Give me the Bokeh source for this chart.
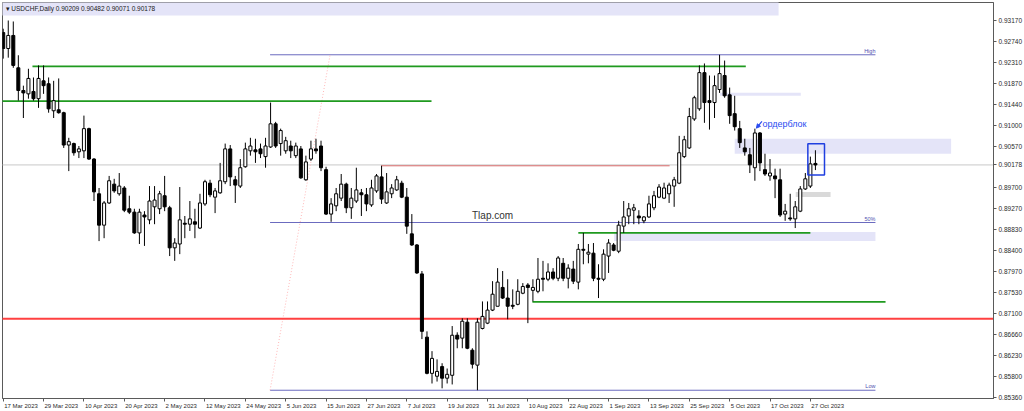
from bokeh.plotting import figure
from bokeh.models import (ColumnDataSource, FixedTicker, Label, Range1d, Arrow, NormalHead,
                          PrintfTickFormatter, LinearAxis)
from bokeh.embed import file_html
from bokeh.resources import INLINE

# ---------------- data (daily USDCHF candles, bar index 0 = 17 Mar 2023) ----------------
date_labels = ["17 Mar 2023", "29 Mar 2023", "10 Apr 2023", "20 Apr 2023", "2 May 2023",
               "12 May 2023", "24 May 2023", "5 Jun 2023", "15 Jun 2023", "27 Jun 2023",
               "7 Jul 2023", "19 Jul 2023", "31 Jul 2023", "10 Aug 2023", "22 Aug 2023",
               "1 Sep 2023", "13 Sep 2023", "25 Sep 2023", "5 Oct 2023", "17 Oct 2023",
               "27 Oct 2023"]
date_tick_bars = [0, 8, 16, 24, 32, 40, 48, 56, 64, 72, 80, 88, 96, 104, 112, 120, 128,
                  136, 144, 152, 160]

opens = [
    0.9292, 0.9259, 0.9286, 0.9219, 0.9172, 0.9165, 0.9170, 0.9155, 0.9192, 0.9186,
    0.9130, 0.9132, 0.9126, 0.9059, 0.9062, 0.9045, 0.9047, 0.9093, 0.9030, 0.8958,
    0.8893, 0.8939, 0.8978, 0.8958, 0.8970, 0.8927, 0.8920, 0.8877, 0.8914, 0.8904,
    0.8931, 0.8927, 0.8954, 0.8929, 0.8846, 0.8854, 0.8897, 0.8895, 0.8900, 0.8887,
    0.8937, 0.8980, 0.8951, 0.8960, 0.8983, 0.9051, 0.8987, 0.8974, 0.9014, 0.9047,
    0.9049, 0.9051, 0.9035, 0.9055, 0.9103, 0.9062, 0.9047, 0.9057, 0.9037, 0.9051,
    0.8987, 0.9030, 0.9051, 0.9057, 0.9008, 0.8916, 0.8933, 0.8949, 0.8978, 0.8929,
    0.8943, 0.8960, 0.8956, 0.8935, 0.8964, 0.8993, 0.8939, 0.8958, 0.8966, 0.8980,
    0.8951, 0.8875, 0.8852, 0.8792, 0.8661, 0.8586, 0.8580, 0.8600, 0.8576, 0.8582,
    0.8665, 0.8659, 0.8692, 0.8634, 0.8603, 0.8679, 0.8690, 0.8717, 0.8725, 0.8764,
    0.8742, 0.8727, 0.8729, 0.8752, 0.8769, 0.8758, 0.8756, 0.8783, 0.8781, 0.8796,
    0.8783, 0.8814, 0.8783, 0.8802, 0.8775, 0.8843, 0.8833, 0.8835, 0.8783, 0.8781,
    0.8829, 0.8852, 0.8839, 0.8891, 0.8912, 0.8924, 0.8912, 0.8902, 0.8910, 0.8929,
    0.8951, 0.8949, 0.8958, 0.8974, 0.8980, 0.9035, 0.9053, 0.9113, 0.9134, 0.9209,
    0.9151, 0.9147, 0.9174, 0.9203, 0.9163, 0.9124, 0.9093, 0.9053, 0.9039, 0.9012,
    0.9084, 0.9008, 0.8995, 0.8995, 0.8987, 0.8916, 0.8908, 0.8906, 0.8922, 0.8968,
    0.8974, 0.90209]
highs = [
    0.9300, 0.9317, 0.9315, 0.9245, 0.9182, 0.9217, 0.9199, 0.9224, 0.9224, 0.9199,
    0.9192, 0.9197, 0.9128, 0.9074, 0.9064, 0.9057, 0.9120, 0.9095, 0.9032, 0.8970,
    0.8943, 0.8995, 0.8989, 0.9001, 0.8974, 0.8954, 0.8927, 0.8927, 0.8922, 0.8974,
    0.8974, 0.8964, 0.8995, 0.8933, 0.8866, 0.8972, 0.8912, 0.8943, 0.8927, 0.8958,
    0.8987, 0.8987, 0.8970, 0.9022, 0.9062, 0.9059, 0.8995, 0.9030, 0.9064, 0.9074,
    0.9072, 0.9062, 0.9074, 0.9147, 0.9107, 0.9093, 0.9076, 0.9068, 0.9064, 0.9057,
    0.9037, 0.9068, 0.9072, 0.9068, 0.9014, 0.8949, 0.8970, 0.8999, 0.8981, 0.8970,
    0.9012, 0.8968, 0.8970, 0.8987, 0.8999, 0.9016, 0.9001, 0.8978, 0.8995, 0.8985,
    0.8970, 0.8916, 0.8854, 0.8798, 0.8673, 0.8632, 0.8615, 0.8607, 0.8596, 0.8684,
    0.8671, 0.8700, 0.8700, 0.8638, 0.8700, 0.8735, 0.8735, 0.8777, 0.8804, 0.8798,
    0.8781, 0.8760, 0.8781, 0.8773, 0.8773, 0.8781, 0.8825, 0.8819, 0.8814, 0.8804,
    0.8829, 0.8825, 0.8812, 0.8819, 0.8854, 0.8877, 0.8854, 0.8856, 0.8812, 0.8843,
    0.8864, 0.8856, 0.8902, 0.8943, 0.8939, 0.8937, 0.8924, 0.8912, 0.8954, 0.8964,
    0.8978, 0.8981, 0.8981, 0.8993, 0.9078, 0.9078, 0.9136, 0.9161, 0.9224, 0.9228,
    0.9203, 0.9203, 0.9246, 0.9234, 0.9178, 0.9161, 0.9109, 0.9072, 0.9053, 0.9093,
    0.9086, 0.9041, 0.9030, 0.9010, 0.9010, 0.8937, 0.8958, 0.8943, 0.8974, 0.9001,
    0.9035, 0.90482]
lows = [
    0.9238, 0.9240, 0.9219, 0.9151, 0.9115, 0.9155, 0.9151, 0.9136, 0.9165, 0.9126,
    0.9115, 0.9124, 0.9053, 0.9005, 0.9037, 0.9032, 0.9032, 0.9028, 0.8943, 0.8860,
    0.8866, 0.8937, 0.8960, 0.8954, 0.8920, 0.8916, 0.8875, 0.8854, 0.8850, 0.8895,
    0.8895, 0.8916, 0.8922, 0.8829, 0.8819, 0.8833, 0.8866, 0.8881, 0.8866, 0.8885,
    0.8933, 0.8951, 0.8918, 0.8958, 0.8978, 0.8974, 0.8939, 0.8970, 0.9012, 0.9037,
    0.9022, 0.9032, 0.9012, 0.9053, 0.9053, 0.9037, 0.9041, 0.9032, 0.9032, 0.8989,
    0.8985, 0.9026, 0.9041, 0.9005, 0.8914, 0.8900, 0.8922, 0.8943, 0.8918, 0.8906,
    0.8939, 0.8912, 0.8922, 0.8931, 0.8960, 0.8937, 0.8937, 0.8949, 0.8964, 0.8949,
    0.8875, 0.8850, 0.8792, 0.8657, 0.8584, 0.8565, 0.8569, 0.8555, 0.8565, 0.8563,
    0.8638, 0.8638, 0.8636, 0.8596, 0.8551, 0.8677, 0.8688, 0.8715, 0.8725, 0.8740,
    0.8698, 0.8719, 0.8727, 0.8750, 0.8690, 0.8735, 0.8752, 0.8756, 0.8777, 0.8779,
    0.8777, 0.8777, 0.8762, 0.8771, 0.8760, 0.8812, 0.8814, 0.8777, 0.8742, 0.8777,
    0.8794, 0.8839, 0.8835, 0.8877, 0.8895, 0.8895, 0.8895, 0.8897, 0.8908, 0.8924,
    0.8949, 0.8947, 0.8939, 0.8931, 0.8978, 0.9032, 0.9051, 0.9109, 0.9130, 0.9105,
    0.9091, 0.9115, 0.9167, 0.9157, 0.9103, 0.9089, 0.9053, 0.9037, 0.9001, 0.8985,
    0.9005, 0.8995, 0.8985, 0.8949, 0.8910, 0.8902, 0.8902, 0.8887, 0.8920, 0.8966,
    0.8970, 0.90071]
closes = [
    0.9259, 0.9286, 0.9224, 0.9172, 0.9167, 0.9197, 0.9155, 0.9197, 0.9182, 0.9134,
    0.9151, 0.9126, 0.9059, 0.9066, 0.9043, 0.9051, 0.9093, 0.9030, 0.8962, 0.8893,
    0.8939, 0.8985, 0.8964, 0.8974, 0.8924, 0.8920, 0.8877, 0.8920, 0.8910, 0.8943,
    0.8945, 0.8958, 0.8931, 0.8846, 0.8856, 0.8904, 0.8895, 0.8906, 0.8895, 0.8939,
    0.8983, 0.8956, 0.8964, 0.8985, 0.9051, 0.8993, 0.8976, 0.9012, 0.9051, 0.9057,
    0.9045, 0.9041, 0.9057, 0.9103, 0.9057, 0.9089, 0.9068, 0.9047, 0.9057, 0.8991,
    0.9024, 0.9051, 0.9047, 0.9012, 0.8916, 0.8937, 0.8958, 0.8978, 0.8929, 0.8949,
    0.8966, 0.8956, 0.8937, 0.8970, 0.8995, 0.8947, 0.8962, 0.8970, 0.8987, 0.8951,
    0.8891, 0.8852, 0.8794, 0.8673, 0.8586, 0.8617, 0.8590, 0.8576, 0.8584, 0.8665,
    0.8657, 0.8694, 0.8638, 0.8605, 0.8692, 0.8704, 0.8717, 0.8750, 0.8775, 0.8742,
    0.8725, 0.8725, 0.8756, 0.8766, 0.8764, 0.8764, 0.8781, 0.8781, 0.8796, 0.8783,
    0.8825, 0.8783, 0.8804, 0.8777, 0.8843, 0.8841, 0.8837, 0.8783, 0.8781, 0.8833,
    0.8856, 0.8841, 0.8893, 0.8910, 0.8927, 0.8929, 0.8908, 0.8910, 0.8937, 0.8954,
    0.8972, 0.8970, 0.8976, 0.8987, 0.9043, 0.9070, 0.9118, 0.9157, 0.9209, 0.9147,
    0.9147, 0.9182, 0.9207, 0.9161, 0.9120, 0.9097, 0.9064, 0.9045, 0.9018, 0.9084,
    0.9022, 0.8999, 0.9001, 0.8989, 0.8914, 0.8922, 0.8906, 0.8931, 0.8968, 0.8989,
    0.9020, 0.90178]

last_price = 0.90178
price_ticks = [0.93170, 0.92740, 0.92310, 0.91870, 0.91440, 0.91000, 0.90570, last_price,
               0.89700, 0.89270, 0.88830, 0.88400, 0.87970, 0.87530, 0.87100, 0.86660,
               0.86230, 0.85800, 0.85360]
title_text = "\u25be USDCHF,Daily  0.90209 0.90482 0.90071 0.90178"

# analyst drawings: (start bar, end bar, price)
fib_span = (52.9, 172.9)
fib_levels = [("High", 0.9246), ("50%", 0.88985), ("Low", 0.8551)]
fib_diagonal = ([52.9, 64.8], [0.8551, 0.9246])
green_levels = [(5.8, 147.2, 0.9222), (-1.0, 84.9, 0.9150), (114.0, 160.0, 0.8877),
                (104.9, 174.9, 0.8734)]
red_short_level = (74.9, 132.1, 0.9016)
red_long_level = 0.8699
# zones: (start bar, end bar, bottom price, top price)
lavender_zones = [(142.1, 158.1, 0.91612, 0.91674), (145.0, 187.9, 0.90407, 0.90719),
                  (121.1, 172.9, 0.88600, 0.88787)]
grey_zone = (157.1, 164.0, 0.89514, 0.89618)
blue_box = (159.5, 162.8, 0.89971, 0.90615)

# ---------------- figure ----------------
x_lo, x_hi = -0.14, 196.3
y_lo, y_hi = 0.85339, 0.93543
FRAME_W = 993

p = figure(width=1024, height=411, output_backend="svg", toolbar_location=None,
           x_range=Range1d(x_lo, x_hi), y_range=Range1d(y_lo, y_hi),
           y_axis_location="right", min_border_left=2, min_border_top=2,
           min_border_right=0, min_border_bottom=0)
p.grid.visible = False
p.outline_line_color = "#5a5a5a"
p.background_fill_color = "white"
p.border_fill_color = "white"

AX_FONT = "Liberation Sans"
TXT = "#2a2a2a"
p.yaxis.ticker = FixedTicker(ticks=price_ticks)
p.yaxis.formatter = PrintfTickFormatter(format="%.5f")
p.yaxis.major_label_text_font = AX_FONT
p.yaxis.major_label_text_font_size = "6.5px"
p.yaxis.major_label_text_color = TXT
p.yaxis.major_label_standoff = 2
p.yaxis.major_tick_out = 3
p.yaxis.major_tick_in = 0
p.yaxis.minor_tick_out = 0
p.yaxis.minor_tick_in = 0

# date ticks: marks on the main axis ...
p.xaxis.ticker = FixedTicker(ticks=date_tick_bars)
p.xaxis.major_label_overrides = {b: "" for b in date_tick_bars}
p.xaxis.major_label_text_font_size = "0px"
p.xaxis.major_label_standoff = 0
p.xaxis.major_tick_out = 3
p.xaxis.major_tick_in = 0
p.xaxis.minor_tick_out = 0
p.xaxis.minor_tick_in = 0
for ax in (p.xaxis, p.yaxis):
    ax.axis_line_color = "#5a5a5a"
    ax.major_tick_line_color = "#5a5a5a"

# ... and texts on a second axis, placed so each text starts at its tick (MetaTrader style)
LBL_PX = 6.0
char_em = {" ": 0.278, "M": 0.833, "a": 0.556, "r": 0.333, "A": 0.667, "p": 0.556,
           "y": 0.5, "J": 0.5, "u": 0.556, "n": 0.556, "l": 0.222, "g": 0.556,
           "S": 0.667, "e": 0.556, "O": 0.778, "c": 0.5, "t": 0.278}
px_per_bar = FRAME_W / (x_hi - x_lo)


def text_px(s):
    return sum(char_em.get(ch, 0.556) for ch in s) * LBL_PX


label_pos = [b + (text_px(d) / 2 + 1.0) / px_per_bar for b, d in zip(date_tick_bars, date_labels)]
date_axis = LinearAxis(ticker=FixedTicker(ticks=label_pos),
                       major_label_overrides={pos: d for pos, d in zip(label_pos, date_labels)},
                       axis_line_color=None, major_tick_out=0, major_tick_in=0,
                       minor_tick_out=0, minor_tick_in=0, major_label_standoff=1,
                       major_label_text_font=AX_FONT, major_label_text_font_size=f"{LBL_PX}px",
                       major_label_text_color=TXT)
p.add_layout(date_axis, "below")

# title bar
p.quad(left=[x_lo - 1], right=[153.7], bottom=[0.93273], top=[y_hi + 0.01],
       fill_color="#e4e4f8", line_color=None)

# zones
p.quad(left=[z[0] for z in lavender_zones], right=[z[1] for z in lavender_zones],
       bottom=[z[2] for z in lavender_zones], top=[z[3] for z in lavender_zones],
       fill_color="#e4e4f8", line_color=None)
p.quad(left=[grey_zone[0]], right=[grey_zone[1]], bottom=[grey_zone[2]], top=[grey_zone[3]],
       fill_color="#d9d9d9", line_color=None)

# current price line
p.segment(x0=[x_lo - 1], x1=[x_hi + 1], y0=[last_price], y1=[last_price],
          line_color="#c8c8c8", line_width=1)

# fib lines
p.segment(x0=[fib_span[0]] * 3, x1=[fib_span[1]] * 3,
          y0=[v for _, v in fib_levels], y1=[v for _, v in fib_levels],
          line_color="#6b6bbf", line_width=1)
p.line(fib_diagonal[0], fib_diagonal[1], line_color="#ffb8b8", line_width=1,
       line_dash="1 2")

# green levels
p.segment(x0=[g[0] for g in green_levels], x1=[g[1] for g in green_levels],
          y0=[g[2] for g in green_levels], y1=[g[2] for g in green_levels],
          line_color="#1f9a1f", line_width=1.6)

# red levels
p.segment(x0=[red_short_level[0]], x1=[red_short_level[1]], y0=[red_short_level[2]],
          y1=[red_short_level[2]], line_color="#d86a6a", line_width=1)
p.segment(x0=[x_lo - 1], x1=[x_hi + 1], y0=[red_long_level], y1=[red_long_level],
          line_color="#ff4040", line_width=2)

# candles
idx = list(range(len(opens)))
src = ColumnDataSource(dict(
    x=idx, o=opens, h=highs, l=lows, c=closes,
    top=[max(o, c) for o, c in zip(opens, closes)],
    bottom=[min(o, c) for o, c in zip(opens, closes)],
    color=["white" if c >= o else "black" for o, c in zip(opens, closes)],
))
p.segment(x0="x", y0="h", x1="x", y1="l", source=src, line_color="black", line_width=1)
p.vbar(x="x", width=0.6, top="top", bottom="bottom", fill_color="color",
       line_color="black", line_width=1, source=src)

# blue box around last candles
p.quad(left=[blue_box[0]], right=[blue_box[1]], bottom=[blue_box[2]], top=[blue_box[3]],
       fill_color=None, line_color="#1f3fe0", line_width=1.5)

# texts
p.add_layout(Label(x=x_lo, y=y_hi, x_offset=3, y_offset=-2, text=title_text,
                   text_baseline="top", text_font=AX_FONT, text_font_size="6.5px",
                   text_color="#202020"))
for name, lvl in fib_levels:
    p.add_layout(Label(x=fib_span[1], y=lvl, y_offset=1, text=name, text_align="right",
                       text_baseline="bottom", text_font=AX_FONT, text_font_size="5.5px",
                       text_color="#5050b0"))
p.add_layout(Label(x=97.0, y=0.8914, text="Tlap.com", text_align="center",
                   text_baseline="middle", text_font=AX_FONT, text_font_size="10px",
                   text_color="#333333"))
p.add_layout(Label(x=150.5, y=0.91031, text="ордерблок", text_align="left",
                   text_baseline="middle", text_font=AX_FONT, text_font_size="9px",
                   text_color="#2a4cf0"))
p.add_layout(Arrow(x_start=150.4, y_start=0.9108, x_end=149.3, y_end=0.9094,
                   line_color="#2a4cf0", line_width=1.2,
                   end=NormalHead(size=4, line_color="#2a4cf0", fill_color="#2a4cf0",
                                  line_width=1)))

open("out.html", "w").write(file_html(p, INLINE))
